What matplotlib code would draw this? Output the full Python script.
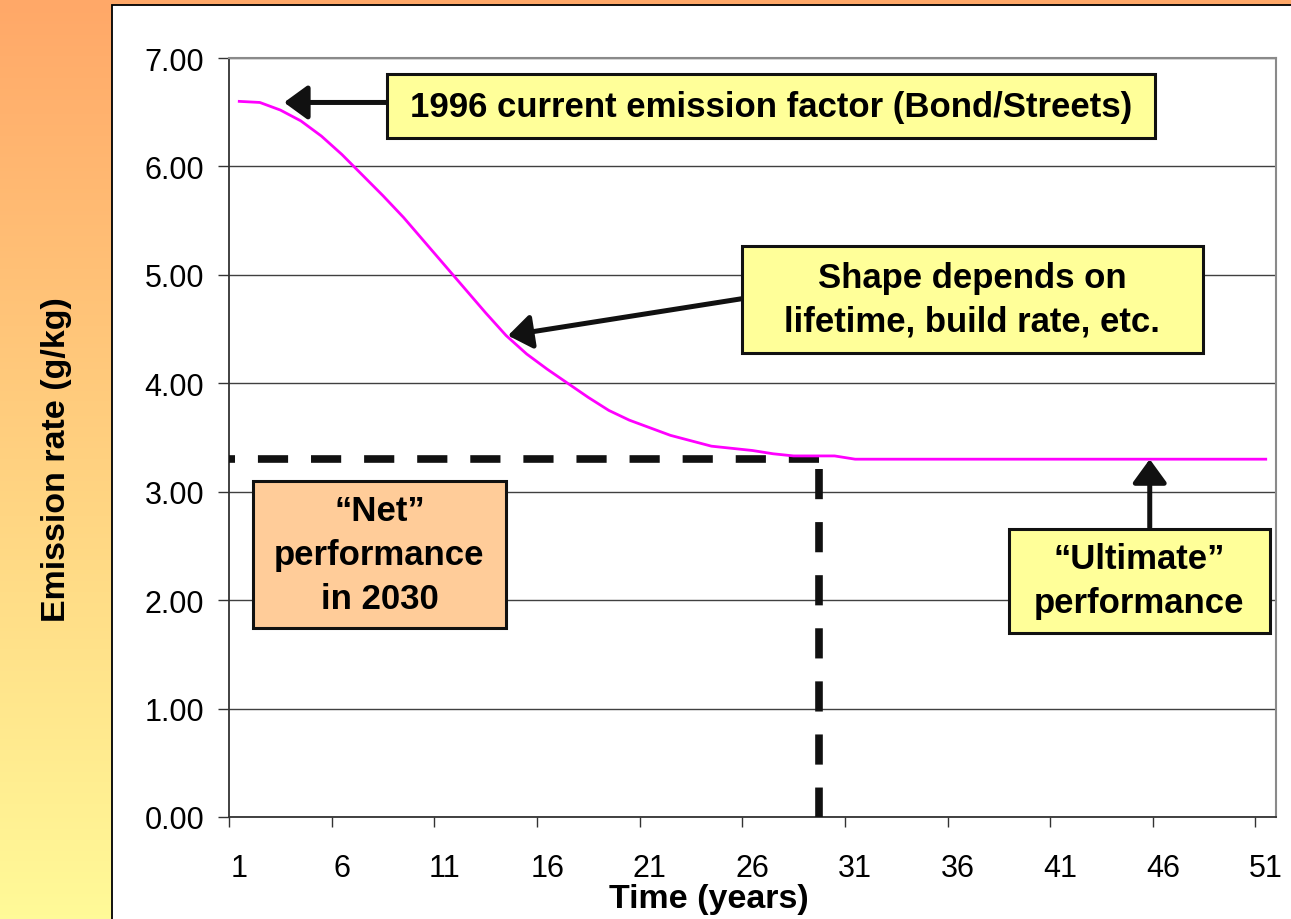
import numpy as np
import matplotlib
matplotlib.use("Agg")
import matplotlib.pyplot as plt
from matplotlib.patches import Rectangle, FancyArrowPatch

W, H = 1291, 920

years = list(range(1, 52))
emission = [6.60, 6.59, 6.52, 6.42, 6.28, 6.11, 5.92, 5.73, 5.53, 5.31,
            5.09, 4.87, 4.65, 4.44, 4.27, 4.13, 4.00, 3.87, 3.75, 3.66,
            3.59, 3.52, 3.47, 3.42, 3.40, 3.38, 3.35, 3.33, 3.33, 3.33,
            3.30, 3.30, 3.30, 3.30, 3.30, 3.30, 3.30, 3.30, 3.30, 3.30,
            3.30, 3.30, 3.30, 3.30, 3.30, 3.30, 3.30, 3.30, 3.30, 3.30,
            3.30]
year_labels = [str(y) for y in years[::5]]
y_ticks = [0, 1, 2, 3, 4, 5, 6, 7]

net_level = 3.30      # "net" emission rate reached in 2030
net_year_x = 29.25    # 2030 on the category axis

plt.rcParams["font.family"] = ["Liberation Sans", "DejaVu Sans"]

fig = plt.figure(figsize=(W / 100, H / 100), dpi=100)

# slide background: orange -> pale yellow
bg = fig.add_axes([0, 0, 1, 1], zorder=-10)
top = np.array([255, 168, 104]) / 255
bot = np.array([255, 250, 152]) / 255
t = np.linspace(0, 1, 256)[:, None]
grad = (top[None, :] * (1 - t) + bot[None, :] * t)[:, None, :]
bg.imshow(grad, aspect="auto", extent=[0, 1, 0, 1])
bg.axis("off")

# white chart panel
fig.add_artist(Rectangle((112 / W, -0.05), 1.0, 1.05 - 6 / H,
                         transform=fig.transFigure, facecolor="white",
                         edgecolor="black", lw=1.3, zorder=-5))

ax = fig.add_axes([229 / W, 1 - 818 / H, 1047 / W, 759 / H])
ax.set_facecolor("none")
ax.set_xlim(0.5, 51.5)
ax.set_ylim(0, 7)

ax.plot(years, emission, color="#ff00ff", lw=2.0, zorder=4)

# dashed guide for the 2030 "net" value (drawn outward from the corner)
dash = dict(color="#111111", lw=5.5, dashes=(3.95, 3.0), solid_capstyle="butt",
            dash_capstyle="butt", zorder=3)
ax.plot([net_year_x, 0.5], [net_level, net_level], **dash)
ax.plot([net_year_x, net_year_x], [net_level - 0.09, 0], **dash)

# axes styling
ax.set_yticks(y_ticks)
ax.set_yticklabels([f"{v:.2f}" for v in y_ticks])
ax.yaxis.grid(True, color="#404040", lw=1.0)
ax.set_axisbelow(True)
ax.set_xticks(np.arange(0.5, 51, 5))
ax.set_xticklabels([])
ax.set_xticks(years[::5], minor=True)
ax.set_xticklabels(year_labels, minor=True)
ax.tick_params(axis="y", direction="out", length=8, width=1, color="#333333",
               labelsize=22, pad=10)
ax.tick_params(axis="x", which="major", direction="out", length=7.5, width=1,
               color="#333333")
ax.tick_params(axis="x", which="minor", length=0, labelsize=22, pad=26)
for s in ("left", "bottom"):
    ax.spines[s].set_color("#333333")
    ax.spines[s].set_linewidth(1.3)
for s in ("top", "right"):
    ax.spines[s].set_color("#8a8a8a")
    ax.spines[s].set_linewidth(1.5)

fig.text(709 / W, 1 - 908 / H, "Time (years)", ha="center", va="baseline",
         fontsize=24.5, fontweight="bold")
fig.text(57 / W, 1 - 460 / H, "Emission rate (g/kg)", ha="center", va="center",
         rotation=90, fontsize=24.5, fontweight="bold")


def callout(x0, y0, x1, y1, text, fc):
    ax.add_patch(Rectangle((x0, y0), x1 - x0, y1 - y0, facecolor=fc,
                           edgecolor="#111111", lw=2.2, zorder=6))
    ax.text((x0 + x1) / 2, (y0 + y1) / 2, text, ha="center", va="center",
            fontsize=25, fontweight="bold", linespacing=1.42, zorder=7)


def arrow(tail, tip):
    ax.add_patch(FancyArrowPatch(tail, tip, shrinkA=0, shrinkB=0,
                                 arrowstyle="-|>,head_length=0.55,head_width=0.4",
                                 mutation_scale=26, color="#111111", lw=3.6,
                                 zorder=5))


callout(8.22, 6.26, 45.61, 6.85, "1996 current emission factor (Bond/Streets)", "#ffff99")
arrow((8.22, 6.59), (3.18, 6.59))

callout(25.48, 4.28, 47.94, 5.27, "Shape depends on\nlifetime, build rate, etc.", "#ffff99")
arrow((25.48, 4.78), (14.09, 4.44))

callout(1.67, 1.74, 13.99, 3.10, "\u201cNet\u201d\nperformance\nin 2030", "#ffcc99")

callout(38.49, 1.70, 51.20, 2.66, "\u201cUltimate\u201d\nperformance", "#ffff99")
arrow((45.35, 2.67), (45.35, net_level))

fig.savefig("out.png", dpi=100)
